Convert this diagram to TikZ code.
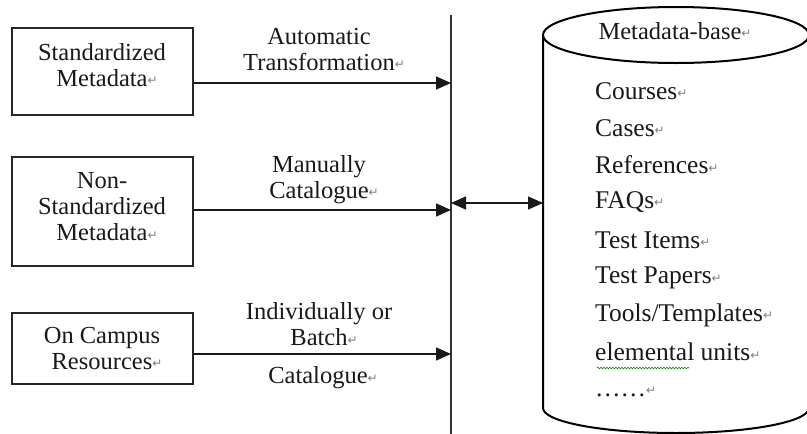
\documentclass[tikz,border=0pt]{standalone}
\usepackage{fontspec}
\setmainfont{Liberation Serif}
\newfontfamily\dejavu{DejaVu Sans}
\usetikzlibrary{arrows.meta,decorations.pathmorphing}
\newcommand\pmark{\rlap{\raisebox{1.5pt}{\textcolor{black!50}{\dejavu\fontsize{12}{12}\selectfont ↵}}}}
\begin{document}
\begin{tikzpicture}[x=1pt,y=-1pt,
  txt/.style={font=\fontsize{24.5}{26}\selectfont, text=black!90, inner sep=0pt, align=center},
  item/.style={txt, font=\fontsize{25.5}{27}\selectfont, anchor=west, align=left},
  srcbox/.style={draw=black!85, line width=1.3pt, minimum width=181pt, inner sep=0pt},
  arr/.style={draw=black!90, line width=1.5pt, -{Triangle[length=15pt,width=13pt]}},
  darr/.style={draw=black!90, line width=1.5pt, {Triangle[length=15pt,width=13pt]}-{Triangle[length=15pt,width=13pt]}},
  axis/.style={draw=black!80, line width=1.2pt},
  cyl/.style={draw=black, line width=2pt},
  squig/.style={draw=green!55!black, line width=0.6pt, decorate, decoration={snake, amplitude=0.8pt, segment length=3pt}}
]
\useasboundingbox (0,0) rectangle (807,434);
\clip (0,0) rectangle (807,434);
\fill[white] (0,0) rectangle (807,434);

% source boxes
\node[srcbox, minimum height=87pt] (b1) at (102.5,71.5) {};
\node[srcbox, minimum height=109pt] (b2) at (102.5,211.5) {};
\node[srcbox, minimum height=71pt] (b3) at (102.5,348.5) {};
\node[txt] (t1) at (102,65) {Standardized\\Metadata\pmark};
\node[txt] (t2) at (102,207) {Non-\\Standardized\\Metadata\pmark};
\node[txt] (t3) at (102,348.5) {On Campus\\Resources\pmark};

% vertical bus line
\coordinate (vtop) at (451,15);
\coordinate (vbot) at (451,434);
\draw[axis] (vtop) -- (vbot);

% arrows to bus
\coordinate (v1) at (451,83);
\coordinate (v2) at (451,210);
\coordinate (v3) at (451,354);
\draw[arr] (b1.east |- v1) -- (v1);
\draw[arr] (b2.east |- v2) -- (v2);
\draw[arr] (b3.east |- v3) -- (v3);

% arrow labels
\node[txt] (l1) at (319,49.5) {Automatic\\Transformation\pmark};
\node[txt] (l2) at (319,179.5) {Manually\\Catalogue\pmark};
\node[txt] (l3) at (319,324.5) {Individually or\\Batch\pmark};
\node[txt] (l4) at (318,378) {Catalogue\pmark};

% cylinder
\draw[cyl] (543,35) -- (543,408)
  .. controls (543,421.8) and (602.5,433) .. (676,433)
  .. controls (749.5,433) and (809,421.8) .. (809,408) -- (809,35);
\draw[cyl, fill=white] (676,35) ellipse [x radius=133, y radius=28];
\coordinate (cylL) at (543,203);
\draw[darr] (v2 |- cylL) -- (cylL);

% cylinder texts
\node[txt] (mb) at (670,31) {Metadata-base\pmark};
\node[item] (i1) at (595,91) {Courses\pmark};
\node[item] (i2) at (595,128) {Cases\pmark};
\node[item] (i3) at (595,165) {References\pmark};
\node[item] (i4) at (595,202) {FAQs\pmark};
\node[item] (i5) at (595,240) {Test Items\pmark};
\node[item] (i6) at (595,278) {Test Papers\pmark};
\node[item] (i7) at (595,315) {Tools/Templates\pmark};
\node[item] (i8) at (595,352) {elemental units\pmark};
\node[item] (i9) at (595,392) {……\pmark};
\draw[squig] (597,368) -- (689,368);
\end{tikzpicture}
\end{document}
